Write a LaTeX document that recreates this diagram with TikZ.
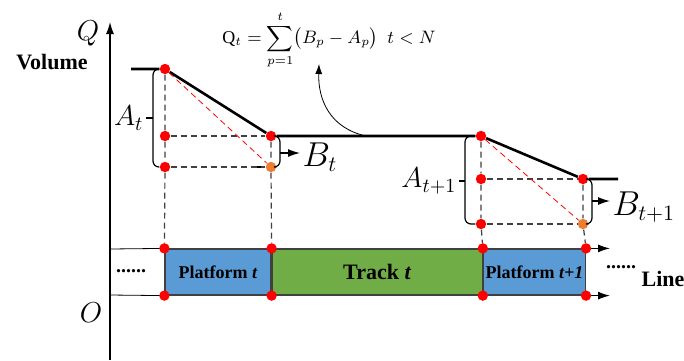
\documentclass[tikz,border=0pt]{standalone}
\usepackage{fontspec}
\setmainfont{Liberation Serif}
\usepackage{amsmath}
\usetikzlibrary{arrows.meta, positioning, calc}
\definecolor{platblue}{HTML}{5B9BD5}
\definecolor{trackgreen}{HTML}{70AD47}
\definecolor{dotorange}{HTML}{ED7D31}
\definecolor{edgegray}{HTML}{404040}

\begin{document}
\begin{tikzpicture}[x=0.5pt, y=-0.5pt,
  dot/.style={circle, fill=red, inner sep=0pt, minimum size=5.2pt},
  odot/.style={circle, fill=dotorange, inner sep=0pt, minimum size=5.2pt},
  seg/.style={rectangle, draw=edgegray, semithick, minimum height=23pt,
    inner sep=0pt, font=\bfseries\fontsize{9}{11}\selectfont},
  vol/.style={line width=1.3pt},
  guide/.style={black!75, semithick, dash pattern=on 3pt off 2pt},
  diag/.style={red, dash pattern=on 3pt off 2pt},
  brk/.style={semithick, rounded corners=3pt},
  arr/.style={-{Latex[length=6pt, width=4pt]}, semithick},
]
  \useasboundingbox (0,0) rectangle (684,360);
  \draw[arr] (110,360) -- (110,22);
  \node[font=\fontsize{14}{16}\selectfont] (qlab) at (88,33) {$Q$};
  \node[font=\bfseries\fontsize{11}{13}\selectfont] (vlab) at (52,62) {Volume};
  \node[font=\fontsize{14}{16}\selectfont] (olab) at (91,313) {$O$};

  \node[seg, fill=platblue, minimum width=53pt] (plat1) at (218,272) {Platform \textit{t}};
  \node[seg, fill=trackgreen, minimum width=105pt, anchor=west,
    font=\bfseries\fontsize{11}{13}\selectfont] (track) at (plat1.east) {Track \textit{t}};
  \node[seg, fill=platblue, minimum width=51pt, anchor=west] (plat2) at (track.east) {Platform \textit{t+1}};
  \draw (110,249) -- (plat1.north west);
  \draw (110,295) -- (plat1.south west);
  \draw[arr] (plat2.north east) -- ++(24,0);
  \draw[arr] (plat2.south east) -- ++(24,0);
  \node[font=\bfseries] (ldots) at (131,271) {......};
  \node[font=\bfseries] (rdots) at (621,267) {......};
  \node[font=\bfseries\fontsize{11}{13}\selectfont] (linelab) at (663,279) {Line};
  \foreach \n in {plat1, plat2}
    \foreach \a/\s in {north west/nw, north east/ne, south west/sw, south east/se}
      \node[dot] (\n\s) at (\n.\a) {};

  \node[dot] (a0) at (165,69) {};
  \node[dot] (a1) at (271,136) {};
  \node[dot] (am) at (165,136) {};
  \node[dot] (ab) at (165,167) {};
  \node[odot] (ao) at (271,167) {};
  \node[dot] (b0) at (481,136) {};
  \node[dot] (b1) at (583,179) {};
  \node[dot] (bm) at (481,179) {};
  \node[dot] (bb) at (481,224) {};
  \node[odot] (bo) at (583,224) {};

  \draw[vol] (131,69) -- (a0) -- (a1) -- (b0) -- (b1) -- (618,179);
  \draw[vol] (ao.west) -- ++(-13,0);
  \draw[guide] (a0) -- (am) -- (ab) -- (plat1nw);
  \draw[guide] (a1) -- (ao) -- (plat1ne);
  \draw[guide] (am) -- (a1);
  \draw[guide] (ab) -- (ao);
  \draw[guide] (b0) -- (bm) -- (bb) -- (plat2nw);
  \draw[guide] (b1) -- (bo) -- (plat2ne);
  \draw[guide] (bm) -- (b1);
  \draw[guide] (bb) -- (bo);
  \draw[diag] (a0) -- (ao);
  \draw[diag] (b0) -- (bo);

  \draw[brk] (a0.west) -| (153,118) |- (ab.west);
  \draw[semithick] (153,118) -- ++(-7,0)
    node[left, inner sep=1pt, font=\fontsize{14}{16}\selectfont] (labAt) {$A_t$};
  \draw[brk] (a1.east) -| (280,153) |- (ao.east);
  \draw[arr] (280,153) -- ++(20,0)
    node[right, inner sep=1pt, yshift=-2pt, font=\fontsize{16}{18}\selectfont] (labBt) {$B_t$};
  \draw[brk] (b0.west) -| (465,181) |- (bb.west);
  \draw[semithick] (465,181) -- ++(-6,0)
    node[left, inner sep=1pt, font=\fontsize{14}{16}\selectfont] (labAt1) {$A_{t+1}$};
  \draw[brk] (b1.east) -| (592,201) |- (bo.east);
  \draw[arr] (592,201) -- ++(18,0)
    node[right, inner sep=1pt, yshift=-3pt, font=\fontsize{16}{18}\selectfont] (labBt1) {$B_{t+1}$};

  \node[font=\small] (qform) at (329,40)
    {$\mathrm{Q}_t = \displaystyle\sum_{p=1}^{t}\bigl(B_p - A_p\bigr)\ \ t < N$};
  \coordinate (qfoot) at (366,136);
  \coordinate (qtip) at (319,64);
  \draw[-{Latex[length=5pt, width=3.5pt]}] (qfoot) .. controls (330,128) and (318,100) .. (qtip);
\end{tikzpicture}
\end{document}
